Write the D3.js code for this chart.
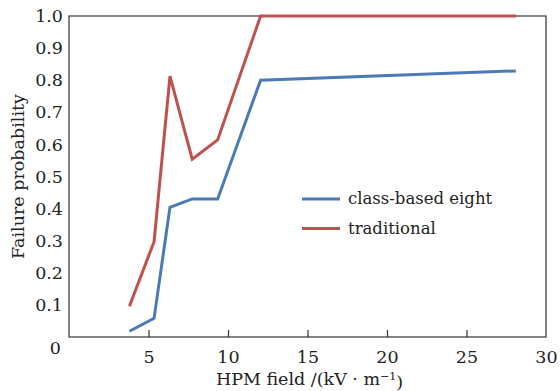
<!DOCTYPE html>
<html>
<head>
<meta charset="utf-8">
<script src="https://cdn.jsdelivr.net/npm/d3@7"></script>
<style>
body { margin: 0; background: #fff; }
text { font-family: "DejaVu Serif", serif; fill: #222; }
</style>
</head>
<body>
<div id="chart"></div>
<script>
// data
var fieldKV = [3.8, 5.35, 6.35, 7.75, 9.35, 12.05, 28.1];
var classBasedEight = [0.018, 0.058, 0.404, 0.43, 0.43, 0.80, 0.829];
var traditional = [0.096, 0.297, 0.813, 0.554, 0.614, 1.0, 1.0];
var xTicks = [5, 10, 15, 20, 25, 30];
var yTicks = [0, 0.1, 0.2, 0.3, 0.4, 0.5, 0.6, 0.7, 0.8, 0.9, 1.0];
var seriesNames = ["class-based eight", "traditional"];
var seriesColors = ["#4a7ab8", "#c0504d"];

var width = 560, height = 391;
var margin = {top: 16, right: 14, bottom: 54, left: 69};

var svg = d3.select("#chart").append("svg")
    .attr("width", width)
    .attr("height", height);

var x = d3.scaleLinear().domain([0, 30]).range([margin.left, width - margin.right]);
var y = d3.scaleLinear().domain([0, 1]).range([height - margin.bottom, margin.top]);

// frame
svg.append("rect")
    .attr("x", x(0))
    .attr("y", y(1))
    .attr("width", x(30) - x(0))
    .attr("height", y(0) - y(1))
    .style("fill", "none")
    .style("stroke", "#333")
    .style("stroke-width", 1.2);

// x axis, ticks pointing inward
var xAxis = svg.append("g")
    .attr("transform", "translate(0," + y(0) + ")")
    .call(d3.axisBottom(x).tickValues(xTicks).tickSize(0).tickPadding(14).tickFormat(d3.format("d")));
xAxis.select(".domain").remove();
xAxis.selectAll("text").style("font-size", "17.5px").style("font-family", "DejaVu Serif");
xAxis.selectAll(".tick").filter(function(d) { return d < 30; })
    .append("line")
    .attr("y1", 0)
    .attr("y2", -7)
    .style("stroke", "#333")
    .style("stroke-width", 1.2);

// y axis, labels only
var yAxis = svg.append("g")
    .attr("transform", "translate(" + x(0) + ",0)")
    .call(d3.axisLeft(y).tickValues(yTicks).tickSize(0).tickPadding(6)
        .tickFormat(function(d) { return d === 0 ? "0" : d3.format(".1f")(d); }));
yAxis.select(".domain").remove();
yAxis.selectAll("text").style("font-size", "17.5px").style("font-family", "DejaVu Serif");
yAxis.selectAll(".tick").filter(function(d) { return d === 0; })
    .select("text").attr("dy", "0.95em").attr("x", -8);

// lines
var allSeries = [classBasedEight, traditional];
var line = d3.line()
    .x(function(d, i) { return x(fieldKV[i]); })
    .y(function(d) { return y(d); });

svg.selectAll(".series")
    .data(allSeries)
    .enter()
    .append("path")
    .attr("class", "series")
    .attr("d", line)
    .style("fill", "none")
    .style("stroke", function(d, i) { return seriesColors[i]; })
    .style("stroke-width", 3)
    .style("stroke-linejoin", "miter");

// legend
var legend = svg.selectAll(".legend")
    .data(seriesNames)
    .enter()
    .append("g")
    .attr("class", "legend")
    .attr("transform", function(d, i) { return "translate(302," + (199 + i * 29.5) + ")"; });
legend.append("line")
    .attr("x1", 0)
    .attr("x2", 38)
    .style("stroke", function(d, i) { return seriesColors[i]; })
    .style("stroke-width", 3);
legend.append("text")
    .attr("x", 46)
    .attr("dy", "0.32em")
    .style("font-size", "16.5px")
    .text(function(d) { return d; });

// axis titles
var xTitle = svg.append("text")
    .attr("x", (x(0) + x(30)) / 2 + 2)
    .attr("y", 385)
    .attr("text-anchor", "middle")
    .style("font-size", "17.5px");
xTitle.append("tspan").text("HPM field /(kV \u00b7 m");
xTitle.append("tspan").attr("dy", "-0.45em").style("font-size", "11px").text("\u22121");
xTitle.append("tspan").attr("dy", "0.45em").text(")");

svg.append("text")
    .attr("transform", "translate(24," + ((y(0) + y(1)) / 2) + ") rotate(-90)")
    .attr("text-anchor", "middle")
    .style("font-size", "17.5px")
    .text("Failure probability");
</script>
</body>
</html>
